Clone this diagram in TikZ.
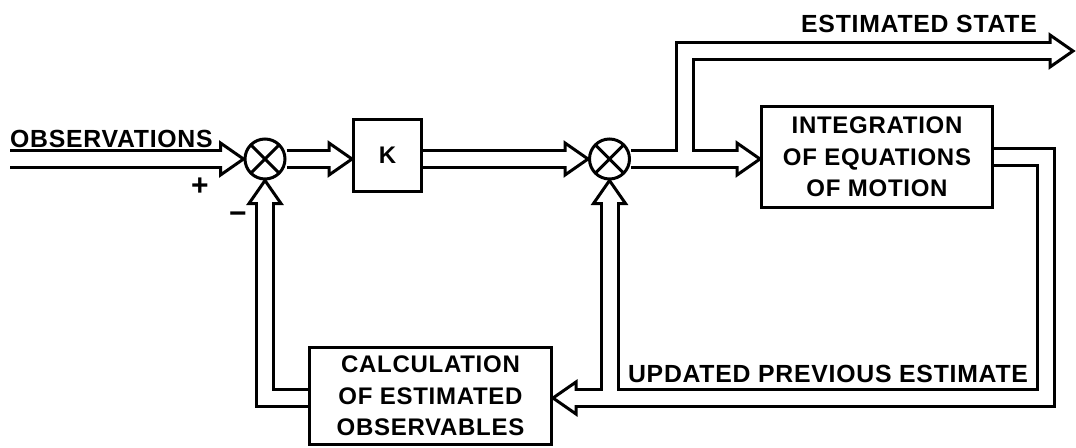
\documentclass[tikz,border=0pt]{standalone}
\usepackage{fontspec}
\setmainfont{Liberation Sans}
\newfontfamily\leroy[LetterSpace=3]{Liberation Sans Bold}
\usepackage{tikz}
\usetikzlibrary{backgrounds}

\newcommand\lettering{\leroy\fontsize{24}{31.5}\selectfont}

\begin{document}
\begin{tikzpicture}[x=1pt, y=-1pt,
  lw/.style={line width=3pt},
  box/.style={draw, lw, fill=white, align=center, font=\lettering, inner sep=0pt},
  sumj/.style={draw, lw, circle, fill=white, minimum size=40pt, inner sep=0pt,
    path picture={\draw[lw] (path picture bounding box.north west) -- (path picture bounding box.south east)
      (path picture bounding box.north east) -- (path picture bounding box.south west);}},
  lbl/.style={font=\leroy\fontsize{24.8}{30}\selectfont, inner sep=0pt},
  pipeout/.style={line width=20pt, line join=miter, shorten >=23pt},
  pipein/.style={line width=14pt, white, line join=miter, shorten >=20pt, shorten <=-6pt},
  pics/head/.style={code={\draw[lw, fill=white, line join=miter] (0,0) -- (-23,16) -- (-23,-16) -- cycle;}}
]
  \useasboundingbox (0,0) rectangle (1076,447);

  \node[sumj] (sum1) at (265,159) {};
  \node[box, minimum width=68pt, minimum height=72pt] (K) at (387.5,155.5) {K};
  \node[sumj] (sum2) at (609.5,159) {};
  \node[box, minimum width=231pt, minimum height=101pt] (integ) at (877,157) {INTEGRATION\\OF EQUATIONS\\OF MOTION};
  \node[box, minimum width=242pt, minimum height=97pt] (calc) at (430.5,396) {CALCULATION\\OF ESTIMATED\\OBSERVABLES};

  \node[lbl, anchor=base west] (obs) at (10,147) {OBSERVATIONS};
  \node[lbl, anchor=base] (est) at (919,32) {ESTIMATED STATE};
  \node[lbl, anchor=base] (upd) at (828,382) {UPDATED PREVIOUS ESTIMATE};
  \node[lbl, font=\leroy\fontsize{30}{30}\selectfont] (plus) at (200,187) {+};
  \node[lbl, font=\leroy\fontsize{30}{30}\selectfont] (minus) at (238,218) {−};

  \coordinate (in) at (10,159);
  \coordinate (br1) at (684.5,159);
  \coordinate (out) at (1073,51);
  \coordinate (fb) at (1046,398);

  \begin{scope}[on background layer]
    % open heads
    \pic at (sum1.west) {head};
    \pic at (K.west |- sum1) {head};
    \pic at (sum2.west) {head};
    \pic at (sum2 -| integ.west) {head};
    \pic at (out) {head};
    \pic[rotate=180] at (fb -| calc.east) {head};
    \pic[rotate=90] at (sum2.south) {head};
    \pic[rotate=90] at (sum1.south) {head};
    % pipe walls
    \draw[pipeout] (in) -- (sum1.west);
    \draw[pipeout] (sum1.east) -- (K.west |- sum1);
    \draw[pipeout] (K.east |- sum1) -- (sum2.west);
    \draw[pipeout] (sum2.east) -- (sum2 -| integ.west);
    \draw[pipeout] (br1) |- (out);
    \draw[pipeout] (integ.east) -| (fb) -- (fb -| calc.east);
    \draw[pipeout] (sum2 |- fb) -- (sum2.south);
    \draw[pipeout] (calc.west |- fb) -| (sum1.south);
    % hollow core
    \draw[pipein] (in) -- (sum1.west);
    \draw[pipein] (sum1.east) -- (K.west |- sum1);
    \draw[pipein] (K.east |- sum1) -- (sum2.west);
    \draw[pipein] (sum2.east) -- (sum2 -| integ.west);
    \draw[pipein] (br1) |- (out);
    \draw[pipein] (integ.east) -| (fb) -- (fb -| calc.east);
    \draw[pipein] (sum2 |- fb) -- (sum2.south);
    \draw[pipein] (calc.west |- fb) -| (sum1.south);
  \end{scope}
\end{tikzpicture}
\end{document}
